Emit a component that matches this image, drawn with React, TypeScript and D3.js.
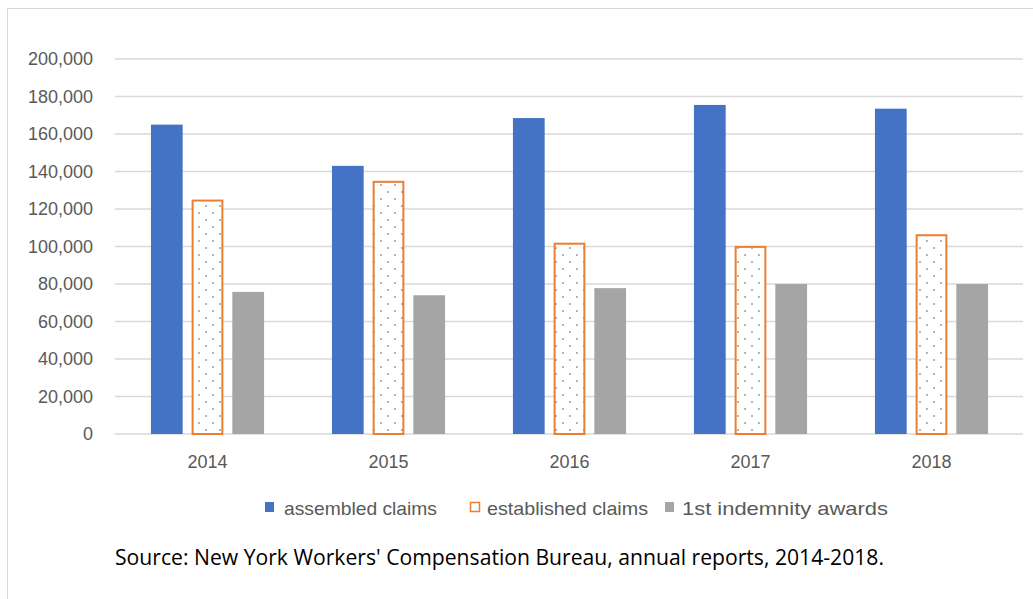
import React from "react";
import * as d3 from "d3";

const years = ["2014", "2015", "2016", "2017", "2018"];
const assembled = [165000, 143000, 168500, 175500, 173500];
const established = [124500, 134500, 101500, 99800, 106000];
const indemnity = [75800, 74000, 77800, 80000, 80000];
const yTicks = [0, 20000, 40000, 60000, 80000, 100000, 120000, 140000, 160000, 180000, 200000];
const seriesNames = ["assembled claims", "established claims", "1st indemnity awards"];
const sourceText = "Source: New York Workers' Compensation Bureau, annual reports, 2014-2018.";

const W = 1033, H = 599;
const margin = { left: 115, right: 1023, top: 59, bottom: 434 };

export default function App() {
  const x0 = d3.scaleBand().domain(years).range([117, 1022]).paddingInner(0.375).paddingOuter(0.1875);
  const sub = d3.scaleBand().domain(["a", "e", "i"]).range([0, x0.bandwidth()]).paddingInner(0.22);
  const y = d3.scaleLinear().domain([0, 200000]).range([margin.bottom, margin.top]);
  const fmt = d3.format(",");
  const font = "'Liberation Sans', Arial, sans-serif";
  const bw = sub.bandwidth();
  return (
    <svg width={W} height={H} style={{ position: "absolute", left: 0, top: 0 }}>
      <defs>
        <pattern id="dots" width="14" height="14" patternUnits="userSpaceOnUse" x="0" y="0">
          <rect width="14" height="14" fill="#fff" />
          <circle cx="3" cy="3" r="0.8" fill="#555" />
          <circle cx="10" cy="10" r="0.8" fill="#555" />
        </pattern>
      </defs>
      <rect x={0} y={0} width={W} height={H} fill="#fff" />
      <rect x={7.5} y={8.5} width={1030} height={600} fill="none" stroke="#d9d9d9" />
      {yTicks.map((t) => (
        <g key={t}>
          <line x1={margin.left} x2={margin.right} y1={y(t)} y2={y(t)} stroke="#d9d9d9" strokeWidth={1.5} />
          <text x={93} y={y(t) + 6} textAnchor="end" fontFamily={font} fontSize={18} fill="#595959">{fmt(t)}</text>
        </g>
      ))}
      {years.map((yr, i) => {
        const gx = x0(yr)!;
        return (
          <g key={yr}>
            <rect x={gx + sub("a")!} y={y(assembled[i])} width={bw} height={y(0) - y(assembled[i])} fill="#4472C4" />
            <rect x={gx + sub("e")! + 1} y={y(established[i])} width={bw - 2} height={y(0) - y(established[i])} fill="url(#dots)" stroke="#ED7D31" strokeWidth={2} />
            <rect x={gx + sub("i")!} y={y(indemnity[i])} width={bw} height={y(0) - y(indemnity[i])} fill="#A5A5A5" />
            <text x={gx + x0.bandwidth() / 2} y={468} textAnchor="middle" fontFamily={font} fontSize={18} fill="#595959">{yr}</text>
          </g>
        );
      })}
      <g fontFamily={font} fontSize={19} fill="#595959">
        <rect x={265} y={502} width={9} height={10} fill="#4472C4" />
        <text x={284} y={515} textLength={153} lengthAdjust="spacingAndGlyphs">{seriesNames[0]}</text>
        <rect x={470.5} y={502.5} width={9} height={9} fill="#fff" stroke="#ED7D31" strokeWidth={1.5} />
        <text x={487} y={515} textLength={161} lengthAdjust="spacingAndGlyphs">{seriesNames[1]}</text>
        <rect x={665} y={502} width={9} height={10} fill="#A5A5A5" />
        <text x={682} y={515} textLength={206} lengthAdjust="spacingAndGlyphs">{seriesNames[2]}</text>
      </g>
      <text x={115} y={565} fontFamily="'Open Sans', 'DejaVu Sans', sans-serif" fontSize={21} fill="#000" textLength={769} lengthAdjust="spacingAndGlyphs">{sourceText}</text>
    </svg>
  );
}
